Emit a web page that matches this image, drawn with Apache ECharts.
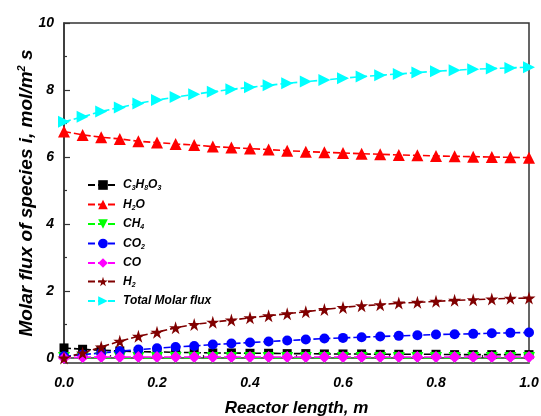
<!DOCTYPE html>
<html>
<head>
<meta charset="utf-8">
<title>Molar flux</title>
<script src="https://cdn.jsdelivr.net/npm/echarts@6/dist/echarts.min.js"></script>
<style>
    html, body { margin: 0; padding: 0; background: #fff; }
    #main { width: 541px; height: 416px; }
</style>
</head>
<body>
<div id="main"></div>
<script>
// 反应器长度 (m)
var xLength = [0, 0.04, 0.08, 0.12, 0.16, 0.2, 0.24, 0.28, 0.32, 0.36, 0.4, 0.44, 0.48,
    0.52, 0.56, 0.6, 0.64, 0.68, 0.72, 0.76, 0.8, 0.84, 0.88, 0.92, 0.96, 1.0];

// 各组分摩尔通量
var c3h8o3 = [0.30, 0.26, 0.23, 0.21, 0.19, 0.18, 0.17, 0.16, 0.15, 0.15, 0.14, 0.14, 0.13,
    0.13, 0.12, 0.12, 0.12, 0.11, 0.11, 0.11, 0.11, 0.10, 0.10, 0.10, 0.10, 0.10];
var h2o = [6.76, 6.66, 6.59, 6.54, 6.47, 6.43, 6.39, 6.36, 6.31, 6.28, 6.25, 6.22, 6.19,
    6.16, 6.14, 6.12, 6.10, 6.08, 6.06, 6.05, 6.03, 6.02, 6.01, 6.00, 5.99, 5.98];
var ch4 = [0.00, 0.00, 0.00, 0.00, 0.00, 0.00, 0.00, 0.00, 0.00, 0.00, 0.00, 0.00, 0.00,
    0.00, 0.00, 0.00, 0.00, 0.00, 0.00, 0.00, 0.00, 0.00, 0.00, 0.00, 0.00, 0.00];
var co2 = [0.05, 0.10, 0.15, 0.20, 0.25, 0.29, 0.33, 0.36, 0.40, 0.43, 0.46, 0.49, 0.52,
    0.55, 0.58, 0.60, 0.62, 0.64, 0.66, 0.68, 0.70, 0.71, 0.72, 0.74, 0.75, 0.76];
var co = [0.00, 0.02, 0.03, 0.03, 0.03, 0.03, 0.03, 0.03, 0.03, 0.03, 0.03, 0.03, 0.03,
    0.03, 0.03, 0.03, 0.03, 0.03, 0.03, 0.03, 0.03, 0.03, 0.03, 0.03, 0.03, 0.03];
var h2 = [0.00, 0.15, 0.33, 0.50, 0.65, 0.77, 0.90, 1.00, 1.07, 1.13, 1.20, 1.26, 1.32,
    1.38, 1.45, 1.51, 1.56, 1.59, 1.64, 1.66, 1.69, 1.72, 1.74, 1.76, 1.78, 1.79];
var totalFlux = [7.05, 7.20, 7.36, 7.48, 7.60, 7.70, 7.79, 7.87, 7.95, 8.02, 8.08, 8.14, 8.20,
    8.25, 8.30, 8.35, 8.40, 8.44, 8.48, 8.52, 8.56, 8.59, 8.62, 8.64, 8.66, 8.68];

// 刻度
var yLabels = [0, 2, 4, 6, 8, 10];
var yMinor = [1, 3, 5, 7, 9];

// 图例名称(带下标)
var names = ["C3H8O3", "H2O", "CH4", "CO2", "CO", "H2", "Total Molar flux"];
var richNames = {
    "C3H8O3": "{n|C}{s|3}{n|H}{s|8}{n|O}{s|3}",
    "H2O": "{n|H}{s|2}{n|O}",
    "CH4": "{n|CH}{s|4}",
    "CO2": "{n|CO}{s|2}",
    "CO": "{n|CO}",
    "H2": "{n|H}{s|2}",
    "Total Molar flux": "{n|Total Molar flux}"
};

var starPath = "path://M50,0 L61,35 L98,35 L68,57 L79,91 L50,70 L21,91 L32,57 L2,35 L39,35 Z";

/*组合数据点*/
function pairs(arr) {
    return arr.map(function (v, i) {
        return [xLength[i], v];
    });
}

/*生成一条折线*/
function makeSeries(name, data, color, symbol, size, rotate) {
    return {
        name: name,
        type: "line",
        data: pairs(data),
        symbol: symbol,
        symbolSize: size,
        symbolRotate: rotate || 0,
        showAllSymbol: true,
        itemStyle: { color: color },
        lineStyle: { color: color, width: 1.6, type: [7, 3] },
        emphasis: { disabled: true },
        animation: false
    };
}

var labelFont = {
    fontFamily: "Liberation Sans",
    fontWeight: "bold",
    fontStyle: "italic",
    fontSize: 14,
    color: "#000"
};

var myChart = echarts.init(document.getElementById("main"), null, { renderer: "canvas" });
myChart.setOption({
    backgroundColor: "#fff",
    grid: {
        left: 64, right: 12, top: 23, bottom: 53,
        outerBoundsMode: "none",
        show: true,
        borderColor: "#333",
        borderWidth: 1.5
    },
    legend: {
        orient: "vertical",
        left: 82,
        top: 174,
        itemWidth: 30,
        itemHeight: 12,
        itemGap: 6.5,
        data: names,
        formatter: function (name) {
            return richNames[name];
        },
        textStyle: {
            rich: {
                n: { fontFamily: "Liberation Sans", fontWeight: "bold", fontStyle: "italic", fontSize: 12, color: "#000" },
                s: { fontFamily: "Liberation Sans", fontWeight: "bold", fontStyle: "italic", fontSize: 7, color: "#000", padding: [7, 0, 0, 0] }
            }
        }
    },
    xAxis: {
        type: "value",
        min: 0,
        max: 1,
        interval: 0.2,
        name: "Reactor length, m",
        nameLocation: "middle",
        nameGap: 37,
        nameMoveOverlap: false,
        nameTextStyle: {
            fontFamily: "Liberation Sans", fontWeight: "bold", fontStyle: "italic", fontSize: 17, color: "#000"
        },
        axisLine: { lineStyle: { color: "#333", width: 1.5 } },
        axisTick: { inside: true, length: 6, lineStyle: { color: "#333", width: 1.2 } },
        minorTick: { show: true, splitNumber: 2, length: 3, lineStyle: { color: "#333", width: 1.2 } },
        splitLine: { show: false },
        axisLabel: Object.assign({
            margin: 13,
            formatter: function (v) { return v.toFixed(1); }
        }, labelFont)
    },
    yAxis: [{
        type: "value",
        min: -0.15,
        max: 10,
        name: "Molar flux of species i, mol/m{sup|2} s",
        nameLocation: "middle",
        nameGap: 27,
        nameMoveOverlap: false,
        nameRotate: 90,
        nameTextStyle: {
            fontFamily: "Liberation Sans", fontWeight: "bold", fontStyle: "italic", fontSize: 19, color: "#000",
            rich: {
                sup: { fontFamily: "Liberation Sans", fontWeight: "bold", fontStyle: "italic", fontSize: 11, color: "#000", padding: [0, 0, 10, 0] }
            }
        },
        axisLine: { show: true, lineStyle: { color: "#333", width: 1.5 } },
        axisTick: { inside: true, length: 6, customValues: yLabels, lineStyle: { color: "#333", width: 1.2 } },
        splitLine: { show: false },
        axisLabel: Object.assign({ margin: 10, customValues: yLabels }, labelFont)
    }, {
        // 次刻度
        type: "value",
        position: "left",
        min: -0.15,
        max: 10,
        axisLine: { show: false },
        axisTick: { show: true, inside: true, length: 3, customValues: yMinor, lineStyle: { color: "#333", width: 1.2 } },
        axisLabel: { show: false, customValues: yMinor },
        splitLine: { show: false }
    }],
    series: [
        makeSeries("C3H8O3", c3h8o3, "#000000", "rect", 9),
        makeSeries("H2O", h2o, "#ff0000", "triangle", 12),
        makeSeries("CH4", ch4, "#00ff00", "triangle", 12, 180),
        makeSeries("CO2", co2, "#0000ff", "circle", 10),
        makeSeries("CO", co, "#ff00ff", "diamond", 12),
        makeSeries("H2", h2, "#800000", starPath, 13),
        makeSeries("Total Molar flux", totalFlux, "#00ffff", "triangle", 12, -90)
    ]
});
</script>
</body>
</html>
